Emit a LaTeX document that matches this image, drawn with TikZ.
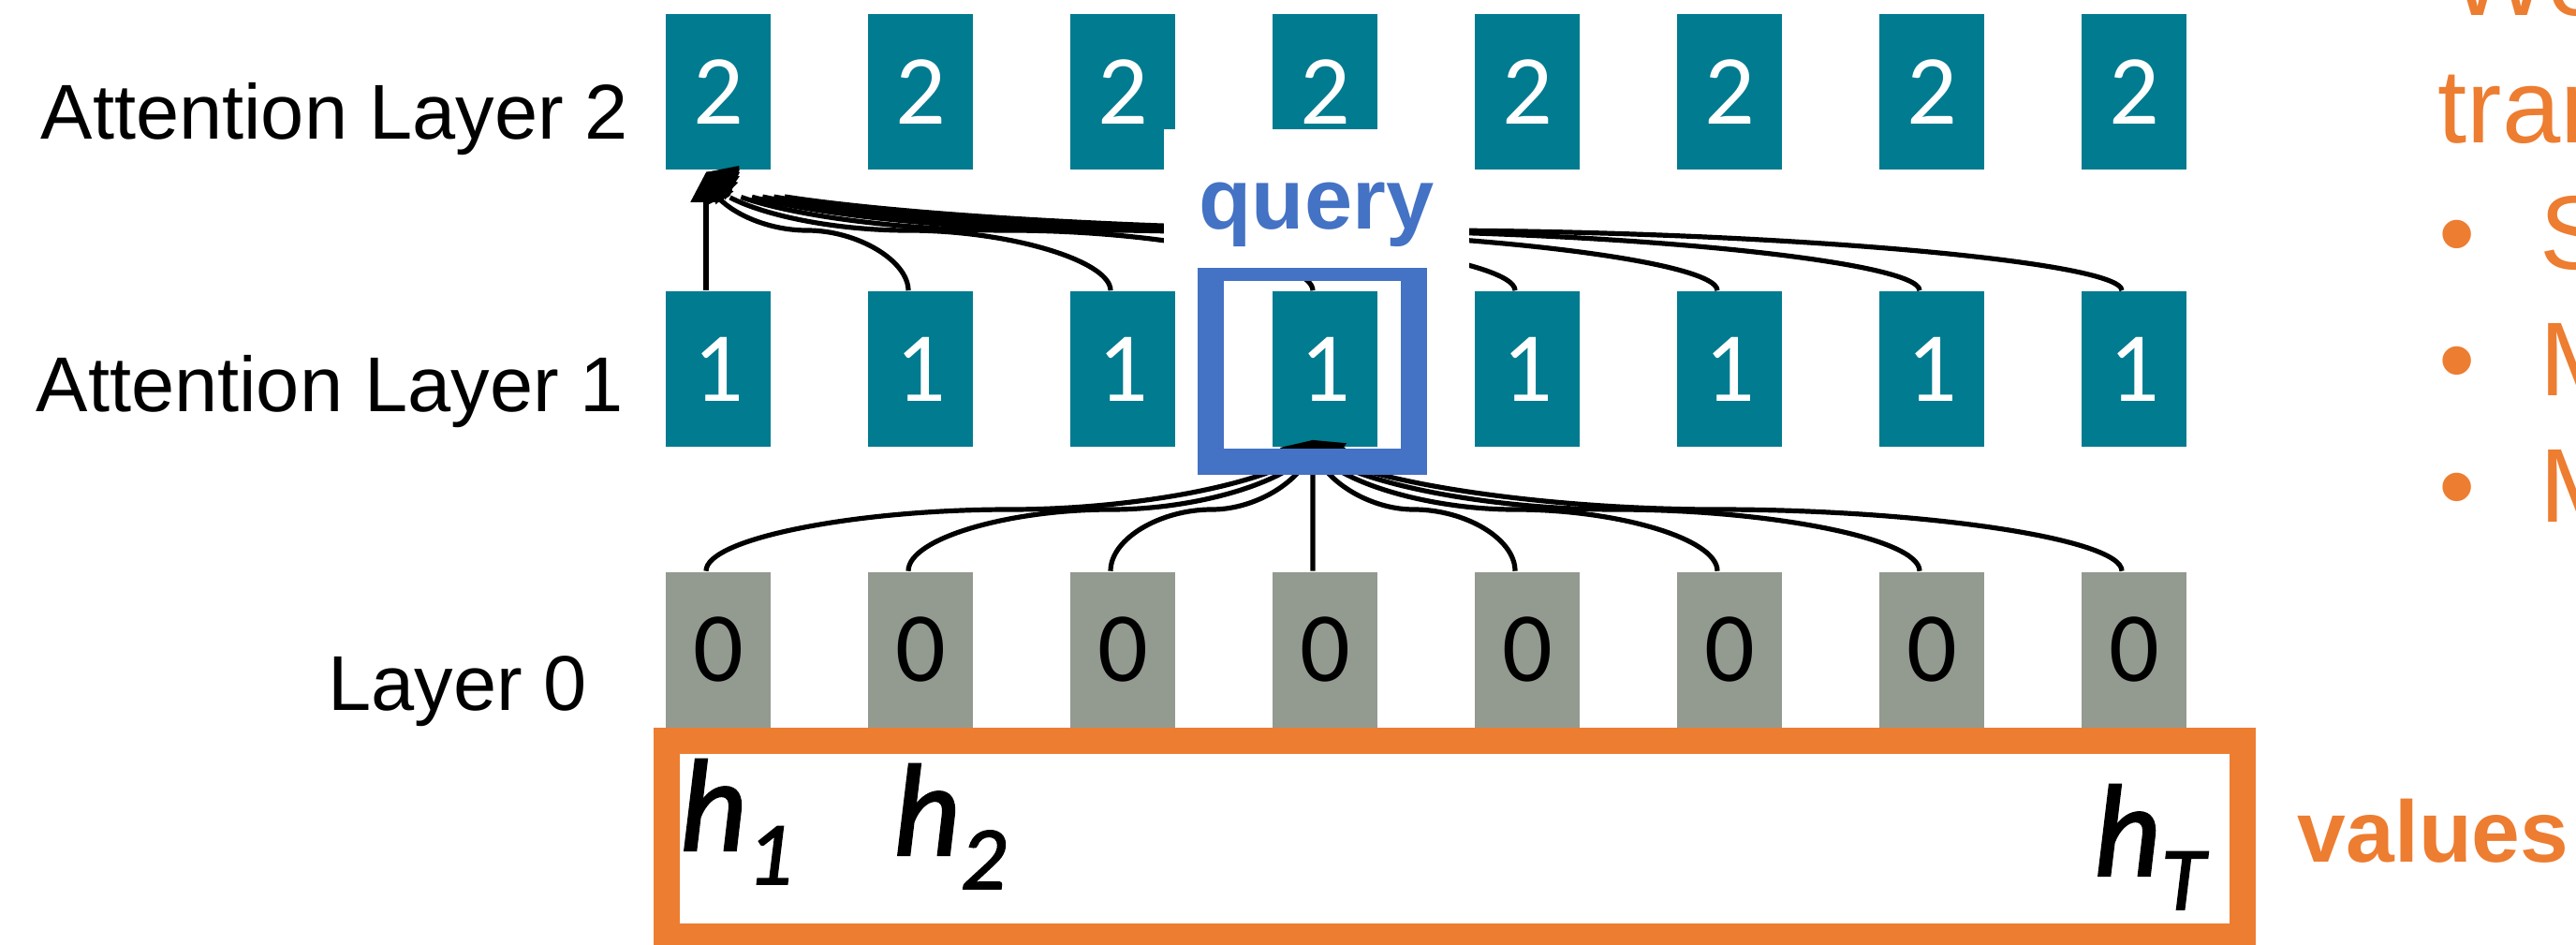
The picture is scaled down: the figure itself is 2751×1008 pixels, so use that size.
\documentclass[tikz,border=0pt]{standalone}
\usepackage{fontspec}
\setmainfont{Liberation Sans}
\newfontfamily\calib{Carlito}
\newfontfamily\calibh{Carlito}[FakeBold=1.6]
\usetikzlibrary{arrows.meta,calc,bending}
\definecolor{tealc}{RGB}{0,123,143}
\definecolor{grayc}{RGB}{147,154,144}
\definecolor{orangec}{RGB}{237,125,49}
\definecolor{bluec}{RGB}{68,114,196}
\begin{document}
\begin{tikzpicture}[x=0.25pt,y=0.25pt,
  box/.style={minimum width=28pt,minimum height=41.5pt,inner sep=0pt,font=\calib\fontsize{26.5pt}{26.5pt}\selectfont},
  tbox/.style={box,fill=tealc,text=white},
  gbox/.style={box,fill=grayc,text=black},
  conn/.style={line width=1.3pt,-{Triangle[width=8pt,length=8pt,flex]}},
  lbl/.style={font=\fontsize{20.75pt}{20.75pt}\selectfont,anchor=base east,inner sep=0pt},
  rtext/.style={text=orangec,font=\fontsize{28pt}{28pt}\selectfont,anchor=base west,inner sep=0pt},
  hlab/.style={anchor=base west,inner sep=0pt,font=\calibh\itshape\fontsize{35pt}{35pt}\selectfont}]
\useasboundingbox (0,0) rectangle (2751,-1008);
\clip (0,0) rectangle (2751,-1008);

% left labels
\node[lbl] (la2) at (672,-148) {Attention Layer 2};
\node[lbl] (la1) at (667,-439) {Attention Layer 1};
\node[lbl] (la0) at (628,-758) {Layer 0};

% boxes
\foreach \i in {1,...,8}{
  \node[tbox] (r2-\i) at ({767+216*(\i-1)},-98) {2};
  \node[tbox] (r1-\i) at ({767+216*(\i-1)},-394) {1};
  \node[gbox] (r0-\i) at ({767+216*(\i-1)},-693.5) {0};
}

% connector helper points
\coordinate (m1) at (0,-544);
\coordinate (m2) at (0,-246);
\coordinate (e1) at ([xshift=-3.25pt,yshift=2pt]r1-4.south);
\coordinate (e2) at ([xshift=-3.25pt,yshift=-0.5pt]r2-1.south);
\foreach \i in {1,...,8}{
  \coordinate (s0-\i) at ([xshift=-3.25pt]r0-\i.north);
  \coordinate (s1-\i) at ([xshift=-3.25pt]r1-\i.north);
}

% connectors layer 0 -> layer 1 (box 4), curved-connector shape
\foreach \i in {1,...,8}{
  \draw[conn] (s0-\i)
     .. controls ($(s0-\i)!0.25!(s0-\i |- e1)$) and ($(s0-\i |- m1)!0.25!(e1 |- m1)$)
     .. ($(s0-\i |- m1)!0.5!(e1 |- m1)$)
     .. controls ($(s0-\i |- m1)!0.75!(e1 |- m1)$) and ($(e1)!0.25!(e1 |- s0-\i)$)
     .. (e1);
}
% connectors layer 1 -> layer 2 (box 1)
\foreach \i in {1,...,8}{
  \draw[conn] (s1-\i)
     .. controls ($(s1-\i)!0.25!(s1-\i |- e2)$) and ($(s1-\i |- m2)!0.25!(e2 |- m2)$)
     .. ($(s1-\i |- m2)!0.5!(e2 |- m2)$)
     .. controls ($(s1-\i |- m2)!0.75!(e2 |- m2)$) and ($(e2)!0.25!(e2 |- s1-\i)$)
     .. (e2);
}

% query frame
\node[draw=bluec,line width=7pt,minimum width=54.25pt,minimum height=51.75pt,inner sep=0pt] (qframe) at (1401.5,-389.5) {};

% query label with white background
\node[fill=white,text=bluec,font=\bfseries\fontsize{23pt}{23pt}\selectfont,inner sep=0pt,
      minimum width=81.5pt,text height=26.5pt,text depth=10.5pt,anchor=base] (query) at (1406,-244) {query};

% values box
\node[draw=orangec,line width=7pt,inner sep=0pt,minimum width=420.75pt,minimum height=52.25pt] (hbox) at (1553.5,-895.5) {};
\node[hlab] (h1) at (725,-908) {h\raisebox{-9pt}{\fontsize{24pt}{24pt}\selectfont 1}};
\node[hlab] (h2) at (953,-913) {h\raisebox{-9pt}{\fontsize{24pt}{24pt}\selectfont 2}};
\node[hlab] (hT) at (2235,-935) {h\raisebox{-9pt}{\fontsize{24pt}{24pt}\selectfont T}};
\node[anchor=base west,inner sep=0pt,text=orangec,font=\bfseries\fontsize{23.25pt}{23.25pt}\selectfont] (values) at (2453,-920) {values};

% right-hand text (cut off by the picture edge)
\node[rtext] (we) at (2616,-16) {We};
\node[rtext] (tra) at (2603,-152) {tran};
\foreach \yy/\tt [count=\k] in {287/S,422/M,557/M}{
  \node[anchor=base,inner sep=0pt,text=orangec,font=\fontsize{28pt}{28pt}\selectfont] (bul\k) at (2624,-\yy) {•};
  \node[rtext] (bt\k) at (2712,-\yy) {\tt};
}
\end{tikzpicture}
\end{document}
